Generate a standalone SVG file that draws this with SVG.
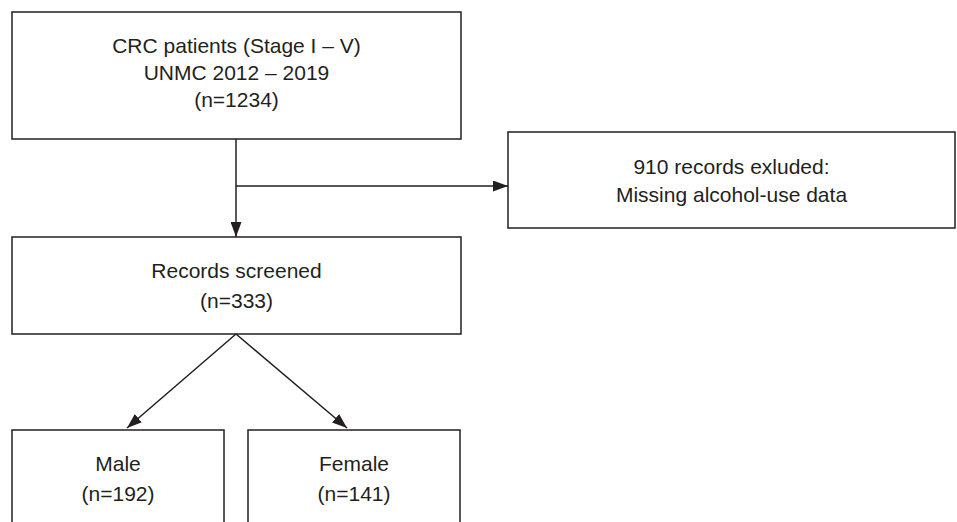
<svg xmlns="http://www.w3.org/2000/svg" width="957" height="522" viewBox="0 0 957 522">
<style>
.box{fill:#fff;stroke:#231f20;stroke-width:1.5}
.t{font-family:"Liberation Sans",Arial,sans-serif;font-size:21px;fill:#231f20;text-anchor:middle}
.c{fill:none;stroke:#231f20;stroke-width:1.5}
</style>
<defs>
<marker id="ah" markerWidth="15" markerHeight="11" refX="15" refY="5.5" orient="auto" markerUnits="userSpaceOnUse">
<path d="M0,0 L15,5.5 L0,11 Z" fill="#231f20"/>
</marker>
</defs>
<rect width="957" height="522" fill="#fff"/>
<g id="n1"><rect class="box" x="12" y="12" width="449" height="127"/>
<text class="t" x="236.5" y="53">CRC patients (Stage I – V)</text>
<text class="t" x="236.5" y="80">UNMC 2012 – 2019</text>
<text class="t" x="236.5" y="107">(n=1234)</text></g>
<g id="n2"><rect class="box" x="508" y="132" width="447" height="96"/>
<text class="t" x="731.5" y="174">910 records exluded:</text>
<text class="t" x="731.5" y="202">Missing alcohol-use data</text></g>
<g id="n3"><rect class="box" x="12" y="237" width="449" height="97"/>
<text class="t" x="236.5" y="278">Records screened</text>
<text class="t" x="236.5" y="308">(n=333)</text></g>
<g id="n4"><rect class="box" x="12" y="430" width="212" height="100"/>
<text class="t" x="118" y="471">Male</text>
<text class="t" x="118" y="501">(n=192)</text></g>
<g id="n5"><rect class="box" x="248" y="430" width="212" height="100"/>
<text class="t" x="354" y="471">Female</text>
<text class="t" x="354" y="501">(n=141)</text></g>
<g id="connectors">
<path class="c" d="M236,139 V237" marker-end="url(#ah)"/>
<path class="c" d="M236,186 H508" marker-end="url(#ah)"/>
<path class="c" d="M236,334 L127,428" marker-end="url(#ah)"/>
<path class="c" d="M236,334 L347,428" marker-end="url(#ah)"/>
</g>
</svg>
